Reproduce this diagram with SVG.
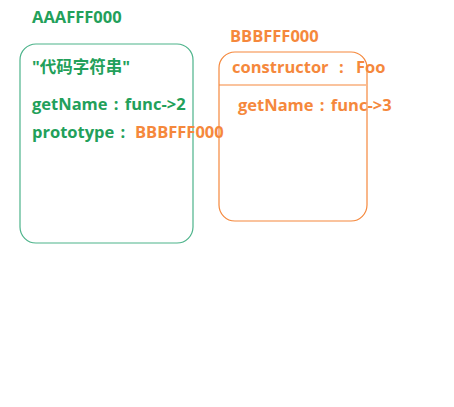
<svg xmlns="http://www.w3.org/2000/svg" width="454" height="407" viewBox="0 0 454 407">
<style>
.t{font-family:"Open Sans","Noto Sans CJK SC",sans-serif;font-weight:bold;font-size:16.5px;word-spacing:2px}
.g{fill:#22a05a}
.o{fill:#f5883c}
.box{fill:none;stroke-width:1.2}
</style>
<rect width="454" height="407" fill="#fff"/>
<g id="nodeA">
<text class="t g" x="32" y="23">AAAFFF000</text>
<rect class="box" x="20" y="44" width="173" height="199" rx="16" stroke="#4cb38a"/>
<text class="t g" x="32" y="73">"代码字符串"</text>
<text class="t g" x="32" y="110">getName : func-&gt;2</text>
<text class="t g" x="32" y="138">prototype :</text>
<text class="t o" x="135" y="138">BBBFFF000</text>
</g>
<g id="nodeB">
<text class="t o" x="230" y="42">BBBFFF000</text>
<rect class="box" x="219" y="52" width="148" height="169" rx="16" stroke="#f5883c"/>
<line x1="219" y1="85" x2="366" y2="85" stroke="#f5883c" stroke-width="1.2"/>
<text class="t o" x="232" y="73">constructor</text>
<text class="t o" x="339" y="73">:</text>
<text class="t o" x="356" y="73">Foo</text>
<text class="t o" x="238" y="111">getName : func-&gt;3</text>
</g>
<g id="connectors"></g>
</svg>
